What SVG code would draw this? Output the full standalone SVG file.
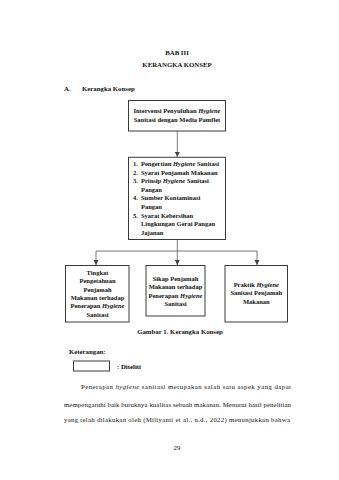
<svg xmlns="http://www.w3.org/2000/svg" width="339" height="480" viewBox="0 0 339 480">
<defs>
<marker id="arr" markerWidth="6" markerHeight="6" refX="5" refY="3" orient="auto" markerUnits="userSpaceOnUse">
<path d="M0,0.5 L5,3 L0,5.5 Z" fill="#404040"/>
</marker>
<style>
text{font-family:"Liberation Serif","Times New Roman",serif;fill:#111;}
.b{font-weight:bold;}
.t{font-size:6.8px;}
.n{font-size:6.5px;font-weight:bold;}
.i{font-style:italic;}
.box{fill:#fff;stroke:#3a3a3a;stroke-width:1;}
.con{fill:none;stroke:#555;stroke-width:0.8;}
.mid{text-anchor:middle;}
</style>
</defs>
<rect width="339" height="480" fill="#fff"/>
<text class="t b mid" x="177" y="54.5">BAB III</text>
<text class="t b mid" x="177" y="66.5">KERANGKA KONSEP</text>
<text class="t b" x="64" y="90.5">A.</text>
<text class="t b" x="82" y="90.5">Kerangka Konsep</text>

<g id="connectors">
<line class="con" x1="177.3" y1="131" x2="177.3" y2="157" marker-end="url(#arr)"/>
<line class="con" x1="177.3" y1="239.5" x2="177.3" y2="251"/>
<line class="con" x1="96" y1="251" x2="257" y2="251"/>
<line class="con" x1="96" y1="251" x2="96" y2="265" marker-end="url(#arr)"/>
<line class="con" x1="177.3" y1="251" x2="177.3" y2="265" marker-end="url(#arr)"/>
<line class="con" x1="257" y1="251" x2="257" y2="265" marker-end="url(#arr)"/>
</g>

<g id="node1">
<rect class="box" x="128.5" y="100.5" width="97" height="30.5"/>
<text class="n mid" x="177" y="113">Intervensi Penyuluhan <tspan class="i">Hygiene</tspan></text>
<text class="n mid" x="177" y="121.7">Sanitasi dengan Media Pamflet</text>
</g>

<g id="node2">
<rect class="box" x="128.5" y="157.3" width="97" height="82.2"/>
<text class="n" x="133" y="166">1.</text><text class="n" x="141" y="166">Pengertian <tspan class="i">Hygiene</tspan> Sanitasi</text>
<text class="n" x="133" y="174.6">2.</text><text class="n" x="141" y="174.6">Syarat Penjamah Makanan</text>
<text class="n" x="133" y="183.2">3.</text><text class="n" x="141" y="183.2">Prinsip <tspan class="i">Hygiene</tspan> Sanitasi</text>
<text class="n" x="141" y="191.8">Pangan</text>
<text class="n" x="133" y="200.4">4.</text><text class="n" x="141" y="200.4">Sumber Kontaminasi</text>
<text class="n" x="141" y="209">Pangan</text>
<text class="n" x="133" y="217.6">5.</text><text class="n" x="141" y="217.6">Syarat Kebersihan</text>
<text class="n" x="141" y="226.2">Lingkungan Gerai Pangan</text>
<text class="n" x="141" y="234.8">Jajanan</text>
</g>

<g id="node3">
<rect class="box" x="65.5" y="265.5" width="63.5" height="56.5"/>
<text class="n mid" x="97.5" y="275">Tingkat</text>
<text class="n mid" x="97.5" y="283.3">Pengetahuan</text>
<text class="n mid" x="97.5" y="291.6">Penjamah</text>
<text class="n mid" x="97.5" y="299.9">Makanan terhadap</text>
<text class="n mid" x="97.5" y="308.2">Penerapan <tspan class="i">Hygiene</tspan></text>
<text class="n mid" x="97.5" y="316.5">Sanitasi</text>
</g>

<g id="node4">
<rect class="box" x="146" y="265.5" width="59" height="50.5"/>
<text class="n mid" x="175.5" y="281">Sikap Penjamah</text>
<text class="n mid" x="175.5" y="289.3">Makanan terhadap</text>
<text class="n mid" x="175.5" y="297.6">Penerapan <tspan class="i">Hygiene</tspan></text>
<text class="n mid" x="175.5" y="305.9">Sanitasi</text>
</g>

<g id="node5">
<rect class="box" x="225" y="265.5" width="62.5" height="56.5"/>
<text class="n mid" x="256.3" y="287">Praktik <tspan class="i">Hygiene</tspan></text>
<text class="n mid" x="256.3" y="295.3">Sanitasi Penjamah</text>
<text class="n mid" x="256.3" y="303.6">Makanan</text>
</g>

<text class="t b mid" x="180" y="334">Gambar 1. Kerangka Konsep</text>
<text class="t b" x="69" y="354">Keterangan:</text>
<rect class="box" x="73.5" y="361" width="36" height="10"/>
<text class="t b" x="117" y="368.5">: Diteliti</text>

<text class="t" x="81" y="389" textLength="210" lengthAdjust="spacing">Penerapan <tspan class="i">hygiene</tspan> sanitasi merupakan salah satu aspek yang dapat</text>
<text class="t" x="64" y="407" textLength="227" lengthAdjust="spacing">mempengaruhi baik buruknya kualitas sebuah makanan. Menurut hasil penelitian</text>
<text class="t" x="64" y="421.5" textLength="226" lengthAdjust="spacing">yang telah dilakukan oleh (Miliyanti et al., n.d., 2022) menunjukkan bahwa</text>
<text class="t mid" x="177" y="450">29</text>
</svg>
